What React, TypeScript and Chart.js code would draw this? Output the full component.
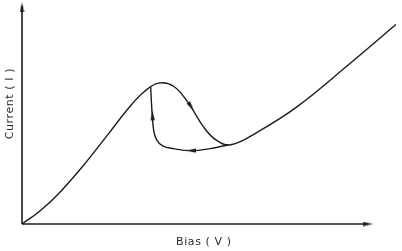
import React, { useEffect, useRef } from "react";
import { Chart, registerables } from "chart.js";

Chart.register(...registerables);

// Main I–V characteristic (bias, current) in arbitrary units
const mainBias = [0, 0.47, 1.0, 1.66, 2.32, 2.85, 3.25, 3.64, 4.04, 4.43, 4.83, 5.17, 5.57, 6.28, 7.34, 8.65, 9.97];
const mainCurrent = [0, 0.58, 1.43, 2.72, 4.15, 5.31, 6.03, 6.43, 6.29, 5.54, 4.46, 3.84, 3.62, 4.2, 5.36, 7.19, 9.11];

// Hysteresis return branch
const loopBias = [3.43, 3.46, 3.51, 3.59, 3.75, 4.04, 4.51, 5.01, 5.51];
const loopCurrent = [6.29, 5.31, 4.29, 3.84, 3.57, 3.44, 3.35, 3.44, 3.62];

// Direction arrows on curves and axes (rotation in degrees, 0 = up)
const arrowBias = [3.48, 4.51, 4.51, 9.23, 0];
const arrowCurrent = [4.96, 3.35, 5.36, 0, 9.9];
const arrowRotation = [-3, 270, 146, 90, 0];

// Axes
const axisXBias = [0, 9.2];
const axisYCurrent = [0, 9.95];

const xTitle = "Bias ( V )";
const yTitle = "Current ( I )";

const INK = "#1c1c1c";

function makeArrowImage(): HTMLCanvasElement {
  const c = document.createElement("canvas");
  c.width = 5;
  c.height = 10;
  const g = c.getContext("2d")!;
  g.fillStyle = INK;
  g.beginPath();
  g.moveTo(2.5, 0);
  g.lineTo(4.6, 10);
  g.lineTo(0.4, 10);
  g.closePath();
  g.fill();
  return c;
}

const titlePlugin = {
  id: "axisTitles",
  afterDraw(chart: any) {
    const { ctx, chartArea, scales } = chart;
    ctx.save();
    ctx.fillStyle = "#2a2a2a";
    ctx.font = "11px 'DejaVu Sans'";
    try { (ctx as any).letterSpacing = "0.6px"; } catch (e) {}
    ctx.textAlign = "center";
    ctx.textBaseline = "middle";
    ctx.fillText(xTitle, scales.x.getPixelForValue(4.85), chartArea.bottom + 18);
    ctx.translate(chartArea.left - 12, scales.y.getPixelForValue(5.5));
    ctx.rotate(-Math.PI / 2);
    ctx.fillText(yTitle, 0, 0);
    ctx.restore();
  },
};

export default function App() {
  const ref = useRef<HTMLCanvasElement | null>(null);
  useEffect(() => {
    document.body.style.margin = "0";
    const canvas = ref.current!;
    const arrowImg = makeArrowImage();
    const chart = new Chart(canvas, {
      type: "line",
      data: {
        datasets: [
          {
            data: axisXBias.map((x) => ({ x, y: 0 })),
            borderColor: INK,
            borderWidth: 1.6,
            pointRadius: 0,
            tension: 0,
          },
          {
            data: axisYCurrent.map((y) => ({ x: 0, y })),
            borderColor: INK,
            borderWidth: 1.6,
            pointRadius: 0,
            tension: 0,
          },
          {
            data: mainBias.map((x, i) => ({ x, y: mainCurrent[i] })),
            borderColor: INK,
            borderWidth: 1.4,
            pointRadius: 0,
            tension: 0.4,
          },
          {
            data: loopBias.map((x, i) => ({ x, y: loopCurrent[i] })),
            borderColor: INK,
            borderWidth: 1.4,
            pointRadius: 0,
            tension: 0.4,
          },
          {
            data: arrowBias.map((x, i) => ({ x, y: arrowCurrent[i] })),
            showLine: false,
            pointStyle: arrowImg as any,
            pointRadius: 4,
            pointRotation: arrowRotation,
          } as any,
        ],
      },
      options: {
        responsive: false,
        animation: false,
        events: [],
        clip: false as any,
        layout: { padding: { left: 22, right: 1, top: 0, bottom: 27 } },
        plugins: { legend: { display: false }, tooltip: { enabled: false } },
        scales: {
          x: { type: "linear", display: false, min: 0, max: 10 },
          y: { type: "linear", display: false, min: 0, max: 10 },
        },
      },
      plugins: [titlePlugin],
    });
    return () => chart.destroy();
  }, []);
  return (
    <div style={{ width: 402, height: 251, background: "#fff" }}>
      <canvas ref={ref} width={402} height={251} style={{ display: "block" }} />
    </div>
  );
}
